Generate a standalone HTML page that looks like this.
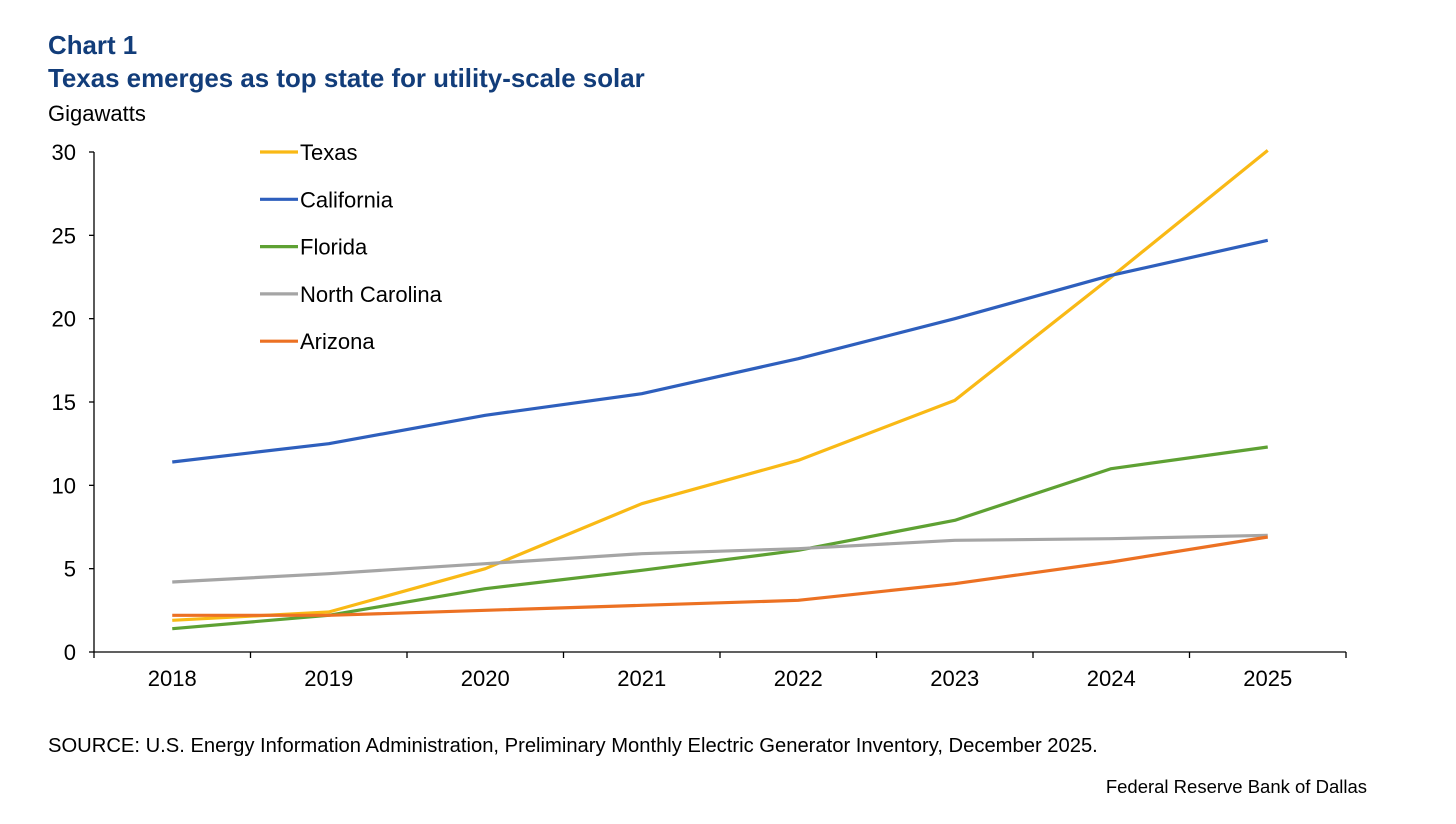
<!DOCTYPE html>
<html><head><meta charset="utf-8"><style>
body{margin:0;background:#fff;font-family:"Liberation Sans",Arial,sans-serif;}
svg text{font-family:"Liberation Sans",Arial,sans-serif;}
</style></head><body>
<svg id="chart" width="1456" height="819" viewBox="0 0 1456 819">
<text x="48" y="54" font-size="25.9" font-weight="bold" fill="#123d7a">Chart 1</text>
<text x="48" y="87" font-size="25.9" font-weight="bold" fill="#123d7a">Texas emerges as top state for utility-scale solar</text>
<text x="48" y="121" font-size="22" fill="#000">Gigawatts</text>
<g id="axes"></g>
<g id="series"></g>
<g id="legend"></g>
<text x="48" y="752" font-size="20.2" fill="#000">SOURCE: U.S. Energy Information Administration, Preliminary Monthly Electric Generator Inventory, December 2025.</text>
<text x="1367" y="793" font-size="18.5" fill="#000" text-anchor="end">Federal Reserve Bank of Dallas</text>
</svg>
<script>
const years=["2018","2019","2020","2021","2022","2023","2024","2025"];
const yTicks=[0,5,10,15,20,25,30];
const texas=[1.9,2.4,5.0,8.9,11.5,15.1,22.5,30.1];
const california=[11.4,12.5,14.2,15.5,17.6,20.0,22.6,24.7];
const florida=[1.4,2.2,3.8,4.9,6.1,7.9,11.0,12.3];
const northCarolina=[4.2,4.7,5.3,5.9,6.2,6.7,6.8,7.0];
const arizona=[2.2,2.2,2.5,2.8,3.1,4.1,5.4,6.9];
const seriesNames=["Texas","California","Florida","North Carolina","Arizona"];
const seriesColors=["#f9b915","#2e5fbd","#5ea133","#a5a5a5","#ec7123"];
const seriesData=[texas,california,florida,northCarolina,arizona];

const NS="http://www.w3.org/2000/svg";
const x0=94,x1=1346,yB=652,yT=152,yMax=30;
const bw=(x1-x0)/years.length;
const xs=i=>x0+bw*(i+0.5);
const ys=v=>yB-(v/yMax)*(yB-yT);
function mk(t,a,p){const e=document.createElementNS(NS,t);for(const k in a)e.setAttribute(k,a[k]);p.appendChild(e);return e;}
const axes=document.getElementById('axes');
const yl=mk('line',{x1:x0,y1:yT,x2:x0,y2:yB,stroke:'#000','stroke-width':1.3},axes);


const xl=mk('line',{x1:x0,y1:yB,x2:x1,y2:yB,stroke:'#000','stroke-width':1.3},axes);


yTicks.forEach(v=>{
 mk('line',{x1:x0-5,y1:ys(v),x2:x0,y2:ys(v),stroke:'#000','stroke-width':1.3},axes);
 const t=mk('text',{x:x0-18,y:ys(v)+8,'font-size':22,'text-anchor':'end'},axes);t.textContent=v;
 
 
});
for(let i=0;i<=years.length;i++){mk('line',{x1:x0+bw*i,y1:yB,x2:x0+bw*i,y2:yB+6,stroke:'#000','stroke-width':1.3},axes);}
years.forEach((y,i)=>{
 const t=mk('text',{x:xs(i),y:yB+34,'font-size':22,'text-anchor':'middle'},axes);t.textContent=y;
 
 
});
const sg=document.getElementById('series');
const lg=document.getElementById('legend');
seriesData.forEach((d,k)=>{
 const p=mk('polyline',{points:d.map((v,i)=>xs(i)+','+ys(v)).join(' '),fill:'none',stroke:seriesColors[k],'stroke-width':3.2,'stroke-linejoin':'round'},sg);
 
 
 const ly=152+k*47.3;
 const g=mk('g',{},lg);
 
 
 mk('line',{x1:260,y1:ly,x2:298,y2:ly,stroke:seriesColors[k],'stroke-width':3.2},g);
 const t=mk('text',{x:300,y:ly+8,'font-size':22},g);t.textContent=seriesNames[k];
});
</script>
</body></html>
